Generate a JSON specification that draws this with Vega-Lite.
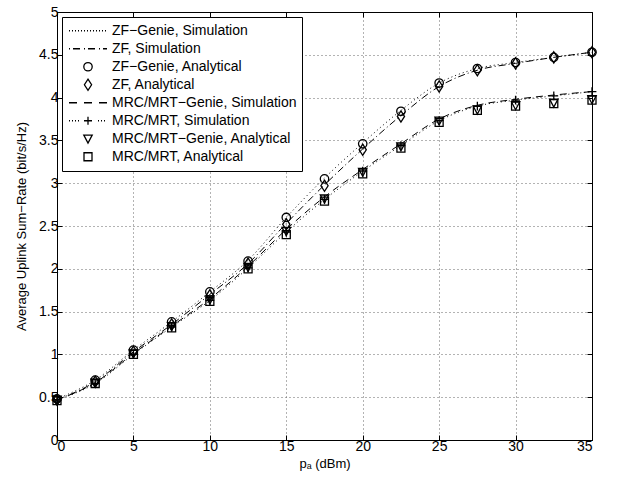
{
 "$schema": "https://vega.github.io/schema/vega-lite/v6.json",
 "width": 535, "height": 428,
 "autosize": "none",
 "padding": {"left": 57, "top": 12, "right": 26, "bottom": 47},
 "background": "white",
 "config": {
  "font": "Liberation Sans",
  "view": {"stroke": "black", "strokeWidth": 1},
  "axis": {"labelFont": "Liberation Sans", "labelFontSize": 14, "labelColor": "black", "titleFont": "Liberation Sans", "titleFontSize": 13, "titleFontWeight": "normal", "titleColor": "black", "domainColor": "black", "tickColor": "black", "tickSize": -5, "gridColor": "#666", "gridDash": [1, 3], "gridWidth": 1}
 },
 "data": {"values": [
  {"x":0,"y":0.48,"s":"ZF−Genie, Simulation"},{"x":2.5,"y":0.70,"s":"ZF−Genie, Simulation"},{"x":5,"y":1.05,"s":"ZF−Genie, Simulation"},{"x":7.5,"y":1.38,"s":"ZF−Genie, Simulation"},{"x":10,"y":1.73,"s":"ZF−Genie, Simulation"},{"x":12.5,"y":2.10,"s":"ZF−Genie, Simulation"},{"x":15,"y":2.60,"s":"ZF−Genie, Simulation"},{"x":17.5,"y":3.06,"s":"ZF−Genie, Simulation"},{"x":20,"y":3.47,"s":"ZF−Genie, Simulation"},{"x":22.5,"y":3.85,"s":"ZF−Genie, Simulation"},{"x":25,"y":4.17,"s":"ZF−Genie, Simulation"},{"x":27.5,"y":4.34,"s":"ZF−Genie, Simulation"},{"x":30,"y":4.41,"s":"ZF−Genie, Simulation"},{"x":32.5,"y":4.47,"s":"ZF−Genie, Simulation"},{"x":35,"y":4.53,"s":"ZF−Genie, Simulation"},
  {"x":0,"y":0.47,"s":"ZF, Simulation"},{"x":2.5,"y":0.68,"s":"ZF, Simulation"},{"x":5,"y":1.03,"s":"ZF, Simulation"},{"x":7.5,"y":1.35,"s":"ZF, Simulation"},{"x":10,"y":1.70,"s":"ZF, Simulation"},{"x":12.5,"y":2.06,"s":"ZF, Simulation"},{"x":15,"y":2.53,"s":"ZF, Simulation"},{"x":17.5,"y":2.98,"s":"ZF, Simulation"},{"x":20,"y":3.40,"s":"ZF, Simulation"},{"x":22.5,"y":3.79,"s":"ZF, Simulation"},{"x":25,"y":4.13,"s":"ZF, Simulation"},{"x":27.5,"y":4.32,"s":"ZF, Simulation"},{"x":30,"y":4.40,"s":"ZF, Simulation"},{"x":32.5,"y":4.47,"s":"ZF, Simulation"},{"x":35,"y":4.53,"s":"ZF, Simulation"},
  {"x":0,"y":0.47,"s":"MRC/MRT−Genie, Simulation"},{"x":2.5,"y":0.67,"s":"MRC/MRT−Genie, Simulation"},{"x":5,"y":1.01,"s":"MRC/MRT−Genie, Simulation"},{"x":7.5,"y":1.33,"s":"MRC/MRT−Genie, Simulation"},{"x":10,"y":1.65,"s":"MRC/MRT−Genie, Simulation"},{"x":12.5,"y":2.03,"s":"MRC/MRT−Genie, Simulation"},{"x":15,"y":2.46,"s":"MRC/MRT−Genie, Simulation"},{"x":17.5,"y":2.84,"s":"MRC/MRT−Genie, Simulation"},{"x":20,"y":3.16,"s":"MRC/MRT−Genie, Simulation"},{"x":22.5,"y":3.46,"s":"MRC/MRT−Genie, Simulation"},{"x":25,"y":3.75,"s":"MRC/MRT−Genie, Simulation"},{"x":27.5,"y":3.91,"s":"MRC/MRT−Genie, Simulation"},{"x":30,"y":3.98,"s":"MRC/MRT−Genie, Simulation"},{"x":32.5,"y":4.03,"s":"MRC/MRT−Genie, Simulation"},{"x":35,"y":4.07,"s":"MRC/MRT−Genie, Simulation"},
  {"x":0,"y":0.47,"s":"MRC/MRT, Simulation","m":"+"},{"x":2.5,"y":0.66,"s":"MRC/MRT, Simulation","m":"+"},{"x":5,"y":1.00,"s":"MRC/MRT, Simulation","m":"+"},{"x":7.5,"y":1.32,"s":"MRC/MRT, Simulation","m":"+"},{"x":10,"y":1.63,"s":"MRC/MRT, Simulation","m":"+"},{"x":12.5,"y":2.01,"s":"MRC/MRT, Simulation","m":"+"},{"x":15,"y":2.43,"s":"MRC/MRT, Simulation","m":"+"},{"x":17.5,"y":2.81,"s":"MRC/MRT, Simulation","m":"+"},{"x":20,"y":3.14,"s":"MRC/MRT, Simulation","m":"+"},{"x":22.5,"y":3.44,"s":"MRC/MRT, Simulation","m":"+"},{"x":25,"y":3.73,"s":"MRC/MRT, Simulation","m":"+"},{"x":27.5,"y":3.90,"s":"MRC/MRT, Simulation","m":"+"},{"x":30,"y":3.97,"s":"MRC/MRT, Simulation","m":"+"},{"x":32.5,"y":4.02,"s":"MRC/MRT, Simulation","m":"+"},{"x":35,"y":4.07,"s":"MRC/MRT, Simulation","m":"+"},
  {"x":0,"y":0.48,"s":"ZF−Genie, Analytical","m":"ZF−Genie, Analytical"},{"x":2.5,"y":0.70,"s":"ZF−Genie, Analytical","m":"ZF−Genie, Analytical"},{"x":5,"y":1.05,"s":"ZF−Genie, Analytical","m":"ZF−Genie, Analytical"},{"x":7.5,"y":1.38,"s":"ZF−Genie, Analytical","m":"ZF−Genie, Analytical"},{"x":10,"y":1.73,"s":"ZF−Genie, Analytical","m":"ZF−Genie, Analytical"},{"x":12.5,"y":2.09,"s":"ZF−Genie, Analytical","m":"ZF−Genie, Analytical"},{"x":15,"y":2.60,"s":"ZF−Genie, Analytical","m":"ZF−Genie, Analytical"},{"x":17.5,"y":3.05,"s":"ZF−Genie, Analytical","m":"ZF−Genie, Analytical"},{"x":20,"y":3.46,"s":"ZF−Genie, Analytical","m":"ZF−Genie, Analytical"},{"x":22.5,"y":3.84,"s":"ZF−Genie, Analytical","m":"ZF−Genie, Analytical"},{"x":25,"y":4.17,"s":"ZF−Genie, Analytical","m":"ZF−Genie, Analytical"},{"x":27.5,"y":4.34,"s":"ZF−Genie, Analytical","m":"ZF−Genie, Analytical"},{"x":30,"y":4.41,"s":"ZF−Genie, Analytical","m":"ZF−Genie, Analytical"},{"x":32.5,"y":4.47,"s":"ZF−Genie, Analytical","m":"ZF−Genie, Analytical"},{"x":35,"y":4.53,"s":"ZF−Genie, Analytical","m":"ZF−Genie, Analytical"},
  {"x":0,"y":0.47,"s":"ZF, Analytical","m":"ZF, Analytical"},{"x":2.5,"y":0.68,"s":"ZF, Analytical","m":"ZF, Analytical"},{"x":5,"y":1.03,"s":"ZF, Analytical","m":"ZF, Analytical"},{"x":7.5,"y":1.35,"s":"ZF, Analytical","m":"ZF, Analytical"},{"x":10,"y":1.69,"s":"ZF, Analytical","m":"ZF, Analytical"},{"x":12.5,"y":2.06,"s":"ZF, Analytical","m":"ZF, Analytical"},{"x":15,"y":2.52,"s":"ZF, Analytical","m":"ZF, Analytical"},{"x":17.5,"y":2.97,"s":"ZF, Analytical","m":"ZF, Analytical"},{"x":20,"y":3.39,"s":"ZF, Analytical","m":"ZF, Analytical"},{"x":22.5,"y":3.78,"s":"ZF, Analytical","m":"ZF, Analytical"},{"x":25,"y":4.13,"s":"ZF, Analytical","m":"ZF, Analytical"},{"x":27.5,"y":4.32,"s":"ZF, Analytical","m":"ZF, Analytical"},{"x":30,"y":4.40,"s":"ZF, Analytical","m":"ZF, Analytical"},{"x":32.5,"y":4.47,"s":"ZF, Analytical","m":"ZF, Analytical"},{"x":35,"y":4.53,"s":"ZF, Analytical","m":"ZF, Analytical"},
  {"x":0,"y":0.47,"s":"MRC/MRT−Genie, Analytical","m":"MRC/MRT−Genie, Analytical"},{"x":2.5,"y":0.67,"s":"MRC/MRT−Genie, Analytical","m":"MRC/MRT−Genie, Analytical"},{"x":5,"y":1.01,"s":"MRC/MRT−Genie, Analytical","m":"MRC/MRT−Genie, Analytical"},{"x":7.5,"y":1.33,"s":"MRC/MRT−Genie, Analytical","m":"MRC/MRT−Genie, Analytical"},{"x":10,"y":1.64,"s":"MRC/MRT−Genie, Analytical","m":"MRC/MRT−Genie, Analytical"},{"x":12.5,"y":2.02,"s":"MRC/MRT−Genie, Analytical","m":"MRC/MRT−Genie, Analytical"},{"x":15,"y":2.44,"s":"MRC/MRT−Genie, Analytical","m":"MRC/MRT−Genie, Analytical"},{"x":17.5,"y":2.82,"s":"MRC/MRT−Genie, Analytical","m":"MRC/MRT−Genie, Analytical"},{"x":20,"y":3.13,"s":"MRC/MRT−Genie, Analytical","m":"MRC/MRT−Genie, Analytical"},{"x":22.5,"y":3.43,"s":"MRC/MRT−Genie, Analytical","m":"MRC/MRT−Genie, Analytical"},{"x":25,"y":3.73,"s":"MRC/MRT−Genie, Analytical","m":"MRC/MRT−Genie, Analytical"},{"x":27.5,"y":3.86,"s":"MRC/MRT−Genie, Analytical","m":"MRC/MRT−Genie, Analytical"},{"x":30,"y":3.91,"s":"MRC/MRT−Genie, Analytical","m":"MRC/MRT−Genie, Analytical"},{"x":32.5,"y":3.94,"s":"MRC/MRT−Genie, Analytical","m":"MRC/MRT−Genie, Analytical"},{"x":35,"y":3.98,"s":"MRC/MRT−Genie, Analytical","m":"MRC/MRT−Genie, Analytical"},
  {"x":0,"y":0.46,"s":"MRC/MRT, Analytical","m":"MRC/MRT, Analytical"},{"x":2.5,"y":0.66,"s":"MRC/MRT, Analytical","m":"MRC/MRT, Analytical"},{"x":5,"y":1.00,"s":"MRC/MRT, Analytical","m":"MRC/MRT, Analytical"},{"x":7.5,"y":1.31,"s":"MRC/MRT, Analytical","m":"MRC/MRT, Analytical"},{"x":10,"y":1.62,"s":"MRC/MRT, Analytical","m":"MRC/MRT, Analytical"},{"x":12.5,"y":2.00,"s":"MRC/MRT, Analytical","m":"MRC/MRT, Analytical"},{"x":15,"y":2.40,"s":"MRC/MRT, Analytical","m":"MRC/MRT, Analytical"},{"x":17.5,"y":2.79,"s":"MRC/MRT, Analytical","m":"MRC/MRT, Analytical"},{"x":20,"y":3.11,"s":"MRC/MRT, Analytical","m":"MRC/MRT, Analytical"},{"x":22.5,"y":3.41,"s":"MRC/MRT, Analytical","m":"MRC/MRT, Analytical"},{"x":25,"y":3.71,"s":"MRC/MRT, Analytical","m":"MRC/MRT, Analytical"},{"x":27.5,"y":3.85,"s":"MRC/MRT, Analytical","m":"MRC/MRT, Analytical"},{"x":30,"y":3.90,"s":"MRC/MRT, Analytical","m":"MRC/MRT, Analytical"},{"x":32.5,"y":3.93,"s":"MRC/MRT, Analytical","m":"MRC/MRT, Analytical"},{"x":35,"y":3.97,"s":"MRC/MRT, Analytical","m":"MRC/MRT, Analytical"}
 ]},
 "resolve": {"scale": {"x": "shared", "y": "shared"}, "axis": {"x": "independent", "y": "independent"}},
 "layer": [
  {
   "transform": [{"filter": {"field": "s", "oneOf": ["ZF−Genie, Simulation", "ZF, Simulation", "MRC/MRT−Genie, Simulation", "MRC/MRT, Simulation"]}}],
   "mark": {"type": "line", "color": "black", "strokeWidth": 1, "interpolate": "monotone"},
   "encoding": {
    "x": {"field": "x", "type": "quantitative", "scale": {"domain": [0, 35], "nice": false, "zero": false}, "axis": {"orient": "bottom", "values": [0,5,10,15,20,25,30,35], "grid": true, "title": "pₐ (dBm)", "titlePadding": 4, "labelPadding": 4}},
    "y": {"field": "y", "type": "quantitative", "scale": {"domain": [0, 5], "nice": false}, "axis": {"orient": "left", "values": [0,0.5,1,1.5,2,2.5,3,3.5,4,4.5,5], "labelExpr": "'' + datum.value", "grid": true, "title": "Average Uplink Sum−Rate (bit/s/Hz)", "titlePadding": 10, "labelPadding": 4}},
    "detail": {"field": "s", "type": "nominal"},
    "strokeDash": {"field": "s", "type": "nominal", "scale": {"domain": ["ZF−Genie, Simulation", "ZF, Simulation", "MRC/MRT−Genie, Simulation", "MRC/MRT, Simulation"], "range": [[1, 3], [7, 3, 1, 3], [7, 5], [1, 3]]}, "legend": null}
   }
  },
  {
   "transform": [{"filter": {"field": "m", "oneOf": ["ZF−Genie, Analytical", "ZF, Analytical", "MRC/MRT−Genie, Analytical", "MRC/MRT, Analytical", "+"]}}],
   "mark": {"type": "point", "filled": false, "color": "black", "stroke": "black", "size": 1600, "strokeWidth": 1.3, "opacity": 1},
   "encoding": {
    "x": {"field": "x", "type": "quantitative", "axis": {"orient": "top", "values": [0,5,10,15,20,25,30,35], "labels": false, "grid": false, "title": null}},
    "y": {"field": "y", "type": "quantitative", "axis": {"orient": "right", "values": [0,0.5,1,1.5,2,2.5,3,3.5,4,4.5,5], "labels": false, "grid": false, "title": null}},
    "shape": {"field": "m", "type": "nominal",
     "scale": {"domain": ["ZF−Genie, Simulation", "ZF, Simulation", "ZF−Genie, Analytical", "ZF, Analytical", "MRC/MRT−Genie, Simulation", "MRC/MRT, Simulation", "MRC/MRT−Genie, Analytical", "MRC/MRT, Analytical", "+"],
      "range": [
       "M-0.95,0h0.05M-0.8,0h0.05M-0.65,0h0.05M-0.5,0h0.05M-0.35,0h0.05M-0.2,0h0.05M-0.05,0h0.05M0.1,0h0.05M0.25,0h0.05M0.4,0h0.05M0.55,0h0.05M0.7,0h0.05M0.85,0h0.05",
       "M-0.95,0h0.05M-0.75,0h0.35M-0.2,0h0.05M0,0h0.35M0.55,0h0.05M0.75,0h0.2",
       "M0.21,0A0.21,0.21,0,1,1,-0.21,0A0.21,0.21,0,1,1,0.21,0Z",
       "M0,-0.28L0.18,0L0,0.28L-0.18,0Z",
       "M-0.95,0H-0.55M-0.2,0H0.2M0.55,0H0.95",
       "M-0.95,0h0.05M-0.8,0h0.05M-0.65,0h0.05M-0.5,0h0.05M-0.2,0H0.2M0,-0.2V0.2M0.5,0h0.05M0.65,0h0.05M0.8,0h0.05",
       "M-0.21,-0.18L0.21,-0.18L0,0.22Z",
       "M-0.2,-0.2H0.2V0.2H-0.2Z",
       "M-0.22,0H0.22M0,-0.22V0.22"
      ]},
     "legend": {"values": ["ZF−Genie, Simulation", "ZF, Simulation", "ZF−Genie, Analytical", "ZF, Analytical", "MRC/MRT−Genie, Simulation", "MRC/MRT, Simulation", "MRC/MRT−Genie, Analytical", "MRC/MRT, Analytical"],
      "title": null, "orient": "none", "legendX": 5, "legendY": 5, "symbolSize": 1600, "symbolStrokeColor": "black", "symbolStrokeWidth": 1.3, "symbolFillColor": "transparent", "labelFont": "Liberation Sans", "labelFontSize": 14, "labelColor": "black", "labelOffset": 3, "labelLimit": 400, "padding": 5, "strokeColor": "black", "fillColor": "white", "cornerRadius": 0, "clipHeight": 17.5, "rowPadding": 0}
    }
   }
  }
 ]
}
